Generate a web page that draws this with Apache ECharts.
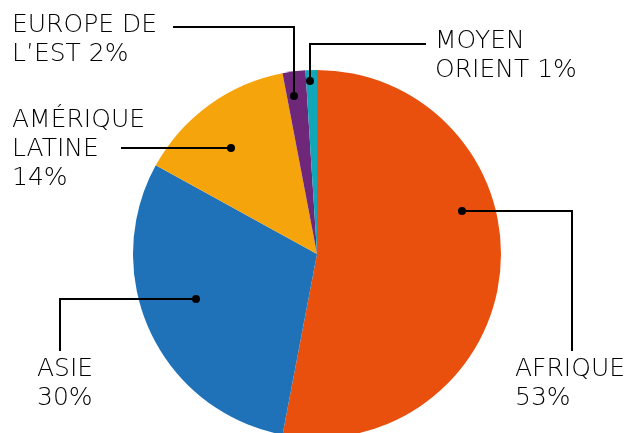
<!DOCTYPE html>
<html>
<head>
<meta charset="utf-8">
<script src="https://cdn.jsdelivr.net/npm/echarts@6/dist/echarts.min.js"></script>
<style>
  html, body { margin: 0; padding: 0; background: #fff; }
  #chart-container { width: 631px; height: 433px; }
</style>
</head>
<body>
<div id="chart-container"></div>
<script>
// regions, clockwise from 12 o'clock
var regions = ["AFRIQUE", "ASIE", "AMÉRIQUE\nLATINE", "EUROPE DE\nL’EST", "MOYEN\nORIENT"];
var shares = [53, 30, 14, 2, 1];
// separator between name and percentage in label
var pctSep = ["\n", "\n", "\n", " ", " "];
var colors = ["#E9500E", "#1F71B8", "#F5A50B", "#6E2779", "#12A6B9"];

// label placement (top-left of text) and leader lines, from dot to label
var labelPos = [
  [515, 355], [37, 355], [12, 106], [12, 11], [435, 27]
];
var leader = [
  [[462, 211], [572, 211], [572, 351]],
  [[196, 299], [60, 299], [60, 351]],
  [[231, 148], [121, 148]],
  [[294, 96], [294, 27], [173, 27]],
  [[310, 81], [310, 44], [426, 44]]
];

var dom = document.getElementById("chart-container");
var myChart = echarts.init(dom, null, { renderer: "canvas" });

var graphics = [];
leader.forEach(function (pts) {
  graphics.push({
    type: "polyline",
    shape: { points: pts },
    style: { stroke: "#000", lineWidth: 2, fill: null },
    z: 100
  });
  graphics.push({
    type: "circle",
    shape: { cx: pts[0][0], cy: pts[0][1], r: 4 },
    style: { fill: "#000" },
    z: 101
  });
});

var option = {
  animation: false,
  color: colors,
  graphic: graphics,
  series: [
    {
      type: "pie",
      center: [317, 254],
      radius: 184,
      startAngle: 90,
      clockwise: true,
      data: regions.map(function (r, i) {
        return { name: r, value: shares[i] };
      }),
      itemStyle: { borderWidth: 0 },
      label: {
        show: true,
        position: "outer",
        formatter: function (p) {
          return p.name + pctSep[p.dataIndex] + p.value + "%";
        },
        color: "#000",
        fontFamily: "DejaVu Sans",
        fontWeight: 300,
        fontSize: 25,
        lineHeight: 29,
        align: "left",
        overflow: "none",
        width: 300
      },
      labelLine: { show: false },
      labelLayout: function (params) {
        var i = params.dataIndex;
        return {
          x: labelPos[i][0],
          y: labelPos[i][1],
          align: "left",
          verticalAlign: "top"
        };
      },
      emphasis: { disabled: true }
    }
  ]
};

myChart.setOption(option);
window.addEventListener("resize", myChart.resize);
</script>
</body>
</html>
